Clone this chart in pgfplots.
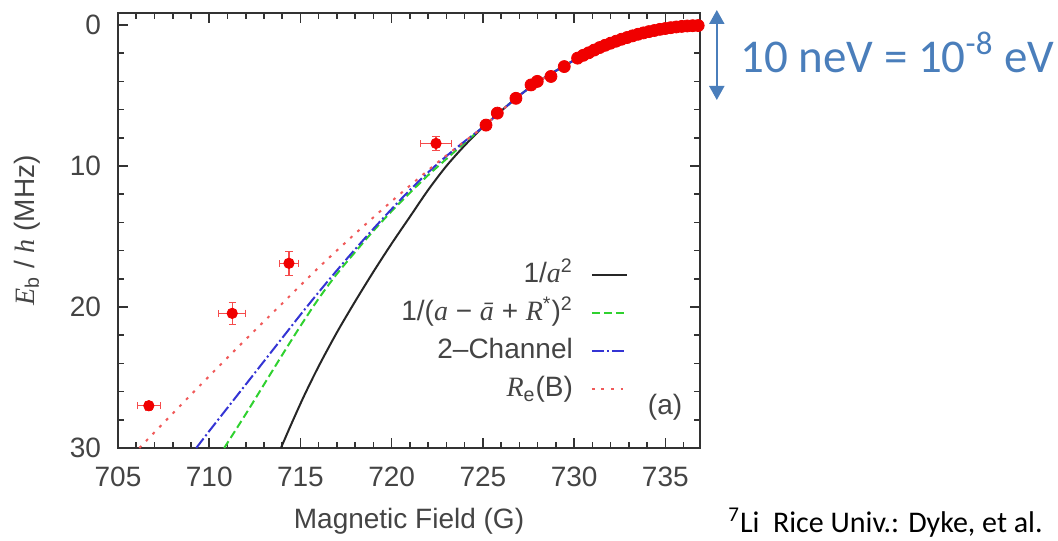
\documentclass[border=0pt]{standalone}
\usepackage{pgfplots}
\pgfplotsset{compat=1.18}
\usepackage{pgfplotstable}
\usepackage{fontspec}
\setmainfont{Liberation Sans}
\newfontfamily\tnr{Liberation Serif}
\newfontfamily\calibri{Carlito}
\usetikzlibrary{arrows.meta}

\definecolor{txtgray}{HTML}{444444}
\definecolor{ptred}{HTML}{F00000}
\definecolor{cgreen}{HTML}{2FD12F}
\definecolor{cblue}{HTML}{3434D4}
\definecolor{cred}{HTML}{F05A5A}
\definecolor{pptblue}{HTML}{4A7EBB}

\newcommand{\vi}[1]{{\tnr\itshape #1}}
\newcommand{\lblfont}{\fontsize{14}{16}\selectfont}

% measured binding energies: field (G), E_b/h (MHz), errors
\pgfplotstableread{
B E eB eE
706.69 27.00 0.65 0.30
711.26 20.45 0.73 0.77
714.37 16.90 0.50 0.83
722.43 8.40 0.87 0.50
}\isolated

\pgfplotstableread{
B E
725.17 7.10
725.79 6.25
726.81 5.20
727.64 4.25
727.98 4.00
728.73 3.65
729.46 2.95
730.19 2.35
730.50 2.15
730.80 1.97
731.10 1.78
731.40 1.60
731.70 1.44
732.00 1.29
732.30 1.15
732.60 1.01
732.90 0.89
733.20 0.77
733.50 0.66
733.80 0.56
734.10 0.47
734.40 0.39
734.70 0.31
735.00 0.25
735.30 0.19
735.60 0.14
735.90 0.10
736.20 0.07
736.50 0.05
736.80 0.04
}\dense

% model curves
\pgfplotstableread{
B E
713.93 30.00
714.50 28.30
715.20 26.30
716.00 24.20
717.00 21.80
718.00 19.60
719.00 17.50
720.00 15.50
721.00 13.60
722.00 11.70
723.00 10.00
724.00 8.55
725.00 7.25
726.00 6.10
727.00 5.00
728.00 4.05
729.00 3.25
730.00 2.50
731.00 1.82
732.00 1.29
733.00 0.85
734.00 0.50
735.00 0.25
736.00 0.09
736.90 0.04
}\univ

\pgfplotstableread{
B E
710.82 30.00
712.00 27.60
713.00 25.50
714.00 23.40
715.00 21.35
716.00 19.40
717.00 17.65
718.00 16.10
719.00 14.60
720.00 13.20
721.00 11.90
722.00 10.65
723.00 9.50
724.00 8.35
725.00 7.25
726.00 6.10
727.00 5.00
728.00 4.05
729.00 3.25
730.00 2.50
731.00 1.82
732.00 1.29
733.00 0.85
734.00 0.50
735.00 0.25
736.00 0.09
736.90 0.04
}\shifted

\pgfplotstableread{
B E
709.29 30.00
710.00 28.80
711.00 27.15
712.00 25.50
713.00 23.85
714.00 22.20
715.00 20.55
716.00 18.95
717.00 17.40
718.00 15.90
719.00 14.45
720.00 13.05
721.00 11.70
722.00 10.45
723.00 9.30
724.00 8.25
725.00 7.25
726.00 6.10
727.00 5.00
728.00 4.05
729.00 3.25
730.00 2.50
731.00 1.82
732.00 1.29
733.00 0.85
734.00 0.50
735.00 0.25
736.00 0.09
736.90 0.04
}\twochan

\pgfplotstableread{
B E
706.17 30.00
708.00 27.55
710.00 24.90
712.00 22.30
714.00 19.75
716.00 17.20
718.00 14.80
720.00 12.50
722.00 10.30
723.00 9.25
724.00 8.25
725.00 7.25
726.00 6.10
727.00 5.00
728.00 4.05
729.00 3.25
730.00 2.50
731.00 1.82
732.00 1.29
733.00 0.85
734.00 0.50
735.00 0.25
736.00 0.09
736.90 0.04
}\reff

\begin{document}
\begin{tikzpicture}
\useasboundingbox (-59pt,-46pt) rectangle (470pt,224pt);
\clip (-59pt,-46pt) rectangle (470pt,224pt);
\begin{axis}[
  at={(0pt,0pt)}, anchor=south west,
  scale only axis, width=291pt, height=217.5pt,
  xmin=705, xmax=736.9, ymin=-0.85, ymax=30, y dir=reverse,
  xtick={705,710,...,735},
  minor xtick={706,707,708,709,711,712,713,714,716,717,718,719,721,722,723,724,726,727,728,729,731,732,733,734,736},
  ytick={0,10,20,30},
  minor ytick={2,4,6,8,12,14,16,18,22,24,26,28},
  tick align=inside, xtick pos=both, ytick pos=both,
  major tick length=5pt, minor tick length=3pt,
  axis line style={black!80, line width=1.2pt},
  every tick/.style={black!80, line width=0.8pt},
  tick label style={font=\lblfont, text=txtgray},
  /pgf/number format/assume math mode=true,
  /pgf/number format/set thousands separator={},
  xticklabel style={yshift=-6pt},
  yticklabel style={xshift=-5pt},
  xlabel={Magnetic Field (G)},
  xlabel style={at={(axis description cs:0.5,-0.184)}, anchor=base, font=\lblfont, text=txtgray},
  ylabel={\vi{E}\textsubscript{b} / \vi{h} (MHz)},
  ylabel style={at={(axis description cs:-0.156,0.5)}, anchor=center, font=\lblfont, text=txtgray},
  legend style={draw=none, fill=none, at={(0.887,0.445)}, anchor=north east,
    font=\lblfont, text=txtgray, row sep=3pt,
    nodes={inner sep=1pt, text height=11pt, text depth=3pt}},
  legend plot pos=right,
  legend cell align=right,
  legend image code/.code={\path[draw=none, fill=none] (0pt,0pt) (26pt,0pt);
    \draw[#1] (8.5pt,0pt) -- (26pt,0pt);},
]
% measurements
\addplot[only marks, mark=*, mark size=2.6pt, color=ptred, forget plot,
  error bars/.cd, x dir=both, x explicit, y dir=both, y explicit,
  error bar style={ptred!70, line width=0.6pt},
  error mark options={rotate=90, mark size=1.8pt, ptred!70}]
  table[x=B, y=E, x error=eB, y error=eE] {\isolated};
\addplot[only marks, mark=*, mark size=3pt, color=ptred, forget plot] table[x=B, y=E] {\dense};
% models
\addplot[black!85, line width=1pt, smooth] table[x=B, y=E] {\univ};
\addlegendentry{1/\vi{a}\textsuperscript{2}}
\addplot[cgreen, line width=1pt, smooth, dash pattern=on 4pt off 2pt] table[x=B, y=E] {\shifted};
\addlegendentry{1/(\vi{a} − \vi{ā} + \vi{R}\textsuperscript{*})\textsuperscript{2}}
\addplot[cblue, line width=1pt, smooth, dash pattern=on 6pt off 1.5pt on 1pt off 1.5pt] table[x=B, y=E] {\twochan};
\addlegendentry{2–Channel}
\addplot[cred, line width=1pt, smooth, dash pattern=on 1.4pt off 3.4pt] table[x=B, y=E] {\reff};
\addlegendentry{\vi{R}\textsubscript{e}(B)}
\node[font=\lblfont, text=txtgray] at (axis description cs:0.94,0.094) {(a)};
\end{axis}
% energy scale annotation
\draw[pptblue, line width=1pt, arrows={Triangle[width=7.5pt,length=7pt]-Triangle[width=7.5pt,length=7pt]}]
  (299.4pt,219pt) -- (299.4pt,174pt);
\node[anchor=base west, inner sep=0pt, text=pptblue, font=\calibri\fontsize{23.5}{26}\selectfont]
  at (311pt,187.5pt) {10 neV = 10\textsuperscript{-8} eV};
\node[anchor=base west, inner sep=0pt, text=black, font=\calibri\fontsize{15}{17}\selectfont]
  at (305pt,-42pt) {\textsuperscript{7}Li\ \ Rice Univ.: Dyke, et al.};
\end{tikzpicture}
\end{document}
